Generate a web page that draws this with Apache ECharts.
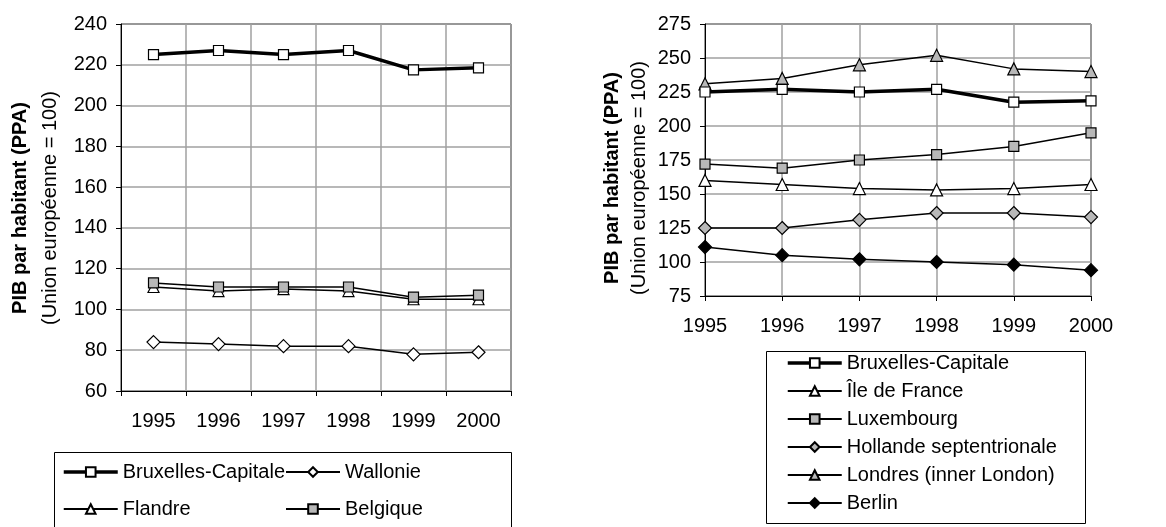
<!DOCTYPE html>
<html>
<head>
<meta charset="utf-8">
<script src="https://cdn.jsdelivr.net/npm/echarts@6/dist/echarts.min.js"></script>
<style>
html,body{margin:0;padding:0;background:#fff}
#chart{width:1166px;height:527px}
</style>
</head>
<body>
<div id="chart"></div>
<script>
// years on both category axes
var years = ['1995', '1996', '1997', '1998', '1999', '2000']

// left chart: Belgian regions
var bruxelles = [225, 227, 225, 227, 217.5, 218.5]
var wallonie = [84, 83, 82, 82, 78, 79]
var flandre = [111, 109, 110, 109, 105, 105]
var belgique = [113, 111, 111, 111, 106, 107]

// right chart: other capital regions
var ileDeFrance = [160, 157, 154, 153, 154, 157]
var luxembourg = [172, 169, 175, 179, 185, 195]
var hollande = [125, 125, 131, 136, 136, 133]
var londres = [231, 235, 245, 252, 242, 240]
var berlin = [111, 105, 102, 100, 98, 94]

var leftTicks = {min: 60, max: 240, step: 20}
var rightTicks = {min: 75, max: 275, step: 25}

var titleBold = 'PIB par habitant (PPA)'
var titleNormal = '(Union européenne = 100)'

var FONT = "'Liberation Sans', Arial, sans-serif"
var GREY = '#b8b8b8'

function xAxisFor(idx, gap) {
  return {
    gridIndex: idx,
    type: 'category',
    data: years,
    boundaryGap: gap,
    axisLine: {lineStyle: {color: '#000', width: 1}},
    axisTick: {show: true, length: 5, lineStyle: {color: '#000'}},
    axisLabel: {color: '#000', fontSize: 20, fontFamily: FONT, margin: 20},
    splitLine: {show: true, lineStyle: {color: '#a0a0a0', width: 1.5}}
  }
}

function yAxisFor(idx, t) {
  return {
    gridIndex: idx,
    type: 'value',
    min: t.min,
    max: t.max,
    interval: t.step,
    axisLine: {show: true, lineStyle: {color: '#000', width: 1}},
    axisTick: {show: true, length: 5, lineStyle: {color: '#000'}},
    axisLabel: {color: '#000', fontSize: 20, fontFamily: FONT, margin: 14},
    splitLine: {show: true, lineStyle: {color: '#a0a0a0', width: 1.5}}
  }
}

function line(name, data, idx, symbol, fill, size, width) {
  return {
    name: name,
    type: 'line',
    xAxisIndex: idx,
    yAxisIndex: idx,
    data: data,
    symbol: symbol,
    symbolSize: size,
    showAllSymbol: true,
    lineStyle: {color: '#000', width: width},
    itemStyle: {color: fill, borderColor: '#000', borderWidth: 1.2},
    emphasis: {disabled: true}
  }
}

function vtitle(x, y, text, weight) {
  return {
    type: 'text',
    x: x,
    y: y,
    rotation: Math.PI / 2,
    style: {
      text: text,
      fontSize: 20,
      fontWeight: weight,
      fontFamily: FONT,
      fill: '#000',
      textAlign: 'center',
      textVerticalAlign: 'middle'
    }
  }
}

// the Brussels entry gets the thick line in the legend too
function legendItem(name) {
  if (name === 'Bruxelles-Capitale') {
    return {name: name, lineStyle: {width: 3.5, color: '#000'}}
  }
  return {name: name}
}

function legendFor(names, left, top, gap) {
  return {
    data: names.map(legendItem),
    orient: 'vertical',
    left: left,
    top: top,
    padding: 0,
    itemGap: gap,
    itemWidth: 54,
    itemHeight: 12,
    selectedMode: false,
    textStyle: {color: '#000', fontSize: 20, fontFamily: FONT}
  }
}

function getOption() {
  return {
    animation: false,
    backgroundColor: '#fff',
    grid: [
      {left: 121, top: 24, width: 390, height: 367, show: true, borderColor: '#000', borderWidth: 1},
      {left: 705, top: 24, width: 386, height: 272, show: true, borderColor: '#000', borderWidth: 1}
    ],
    xAxis: [xAxisFor(0, true), xAxisFor(1, false)],
    yAxis: [yAxisFor(0, leftTicks), yAxisFor(1, rightTicks)],
    legend: [
      legendFor(['Bruxelles-Capitale', 'Flandre'], 62, 462, 17),
      legendFor(['Wallonie', 'Belgique'], 285, 462, 17),
      legendFor(['Bruxelles-Capitale', 'Île de France', 'Luxembourg', 'Hollande septentrionale', 'Londres (inner London)', 'Berlin'], 786, 353, 8)
    ],
    graphic: [
      vtitle(20, 208, titleBold, 'bold'),
      vtitle(50, 208, titleNormal, 'normal'),
      vtitle(612, 178, titleBold, 'bold'),
      vtitle(639, 178, titleNormal, 'normal'),
      {type: 'rect', shape: {x: 54.5, y: 452.5, width: 457, height: 80}, style: {fill: 'none', stroke: '#000', lineWidth: 1}},
      {type: 'rect', shape: {x: 766.5, y: 351.5, width: 319, height: 172}, style: {fill: 'none', stroke: '#000', lineWidth: 1}}
    ],
    series: [
      line('Bruxelles-Capitale', bruxelles, 0, 'rect', '#fff', 10, 3.5),
      line('Wallonie', wallonie, 0, 'diamond', '#fff', 13, 1.5),
      line('Flandre', flandre, 0, 'triangle', '#fff', 11, 1.5),
      line('Belgique', belgique, 0, 'rect', GREY, 10, 1.5),

      line('Hollande septentrionale', hollande, 1, 'diamond', GREY, 13, 1.5),
      line('Berlin', berlin, 1, 'diamond', '#000', 13, 1.5),
      line('Île de France', ileDeFrance, 1, 'triangle', '#fff', 12, 1.5),
      line('Luxembourg', luxembourg, 1, 'rect', GREY, 10, 1.5),
      line('Londres (inner London)', londres, 1, 'triangle', GREY, 12, 1.5),
      line('Bruxelles-Capitale', bruxelles, 1, 'rect', '#fff', 10, 3.5)
    ]
  }
}

var chart = echarts.init(document.getElementById('chart'))
chart.setOption(getOption())
</script>
</body>
</html>
